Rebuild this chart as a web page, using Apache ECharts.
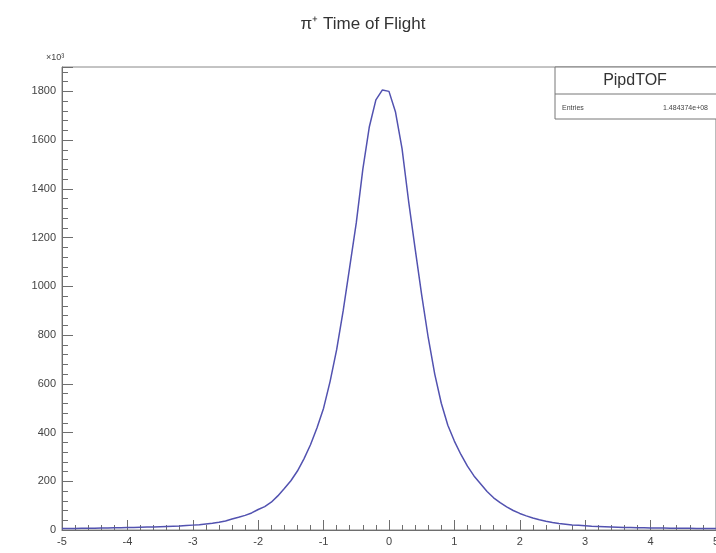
<!DOCTYPE html>
<html lang="en">
<head>
 <meta charset="UTF-8">
 <title>pi+ time of flight</title>
 <style>
  html, body { margin: 0; padding: 0; background: #fff; overflow: hidden; }
 </style>
</head>
<body>
 <div id="main" style="width: 722px;height:553px;"></div>
 <script src="https://cdn.jsdelivr.net/npm/echarts@6/dist/echarts.min.js"></script>
 <script type="text/javascript">

// time of flight (ns), sampled every 0.1
var tof = [-5.0,-4.9,-4.8,-4.7,-4.6,-4.5,-4.4,-4.3,-4.2,-4.1,
           -4.0,-3.9,-3.8,-3.7,-3.6,-3.5,-3.4,-3.3,-3.2,-3.1,
           -3.0,-2.9,-2.8,-2.7,-2.6,-2.5,-2.4,-2.3,-2.2,-2.1,
           -2.0,-1.9,-1.8,-1.7,-1.6,-1.5,-1.4,-1.3,-1.2,-1.1,
           -1.0,-0.9,-0.8,-0.7,-0.6,-0.5,-0.4,-0.3,-0.2,-0.1,
            0.0, 0.1, 0.2, 0.3, 0.4, 0.5, 0.6, 0.7, 0.8, 0.9,
            1.0, 1.1, 1.2, 1.3, 1.4, 1.5, 1.6, 1.7, 1.8, 1.9,
            2.0, 2.1, 2.2, 2.3, 2.4, 2.5, 2.6, 2.7, 2.8, 2.9,
            3.0, 3.1, 3.2, 3.3, 3.4, 3.5, 3.6, 3.7, 3.8, 3.9,
            4.0, 4.1, 4.2, 4.3, 4.4, 4.5, 4.6, 4.7, 4.8, 4.9, 5.0];

// entries per bin, x10^3
var counts = [6, 6, 6, 7, 7, 7, 8, 8, 9, 9,
              10, 10, 11, 12, 12, 13, 14, 15, 16, 18,
              20, 22, 25, 28, 32, 37, 45, 52, 60, 70,
              84, 96, 114, 140, 170, 202, 242, 292, 350, 420,
              500, 610, 740, 900, 1080, 1260, 1480, 1655, 1765, 1806,
              1800, 1715, 1565, 1350, 1155, 965, 790, 640, 520, 430,
              365, 310, 262, 222, 190, 158, 132, 112, 95, 80,
              68, 58, 49, 42, 36, 31, 27, 24, 21, 19,
              17, 15, 14, 13, 12, 11, 10, 10, 9, 9,
              8, 8, 8, 7, 7, 7, 7, 6, 6, 6, 6];

var yTicks = [0, 200, 400, 600, 800, 1000, 1200, 1400, 1600, 1800];

var histName = 'PipdTOF';
var entriesText = '1.484374e+08';

var points = tof.map(function (x, i) { return [x, counts[i]]; });

var myChart = echarts.init(document.getElementById('main'));

var axisGrey = '#6e6e6e';
var labelFont = { color: '#444', fontFamily: 'Liberation Sans, Arial, sans-serif', fontSize: 11 };

myChart.setOption({
    backgroundColor: '#fff',
    animation: false,
    title: {
        text: 'π⁺ Time of Flight',
        left: 358,
        textAlign: 'center',
        top: 11,
        textStyle: {
            color: '#333',
            fontFamily: 'Liberation Sans, Arial, sans-serif',
            fontSize: 17,
            fontWeight: 'normal'
        }
    },
    grid: {
        left: 62,
        right: 4,
        top: 67,
        bottom: 23,
        show: true,
        borderColor: '#888',
        borderWidth: 1
    },
    xAxis: {
        type: 'value',
        min: -5,
        max: 5,
        interval: 1,
        axisLine: { onZero: false, lineStyle: { color: axisGrey } },
        axisTick: { inside: true, length: 10, lineStyle: { color: axisGrey } },
        minorTick: { show: true, splitNumber: 5, length: 5, lineStyle: { color: axisGrey } },
        splitLine: { show: false },
        axisLabel: Object.assign({ margin: 6 }, labelFont)
    },
    yAxis: {
        type: 'value',
        min: 0,
        max: 1900,
        interval: 200,
        axisLine: { onZero: false, lineStyle: { color: axisGrey } },
        axisTick: { inside: true, length: 11, lineStyle: { color: axisGrey } },
        minorTick: { show: true, splitNumber: 5, length: 6, lineStyle: { color: axisGrey } },
        splitLine: { show: false },
        axisLabel: Object.assign({
            margin: 6,
            showMaxLabel: false,
            formatter: function (v) { return yTicks.indexOf(v) >= 0 ? String(v) : ''; }
        }, labelFont)
    },
    graphic: [
        {
            type: 'text',
            left: 46,
            top: 53,
            style: {
                text: '×10³',
                fill: '#444',
                font: '9px Liberation Sans, Arial, sans-serif'
            }
        },
        {
            type: 'rect',
            shape: { x: 555, y: 67, width: 170, height: 52 },
            style: { fill: '#fff', stroke: '#777', lineWidth: 1 },
            z: 10
        },
        {
            type: 'line',
            shape: { x1: 555, y1: 94, x2: 722, y2: 94 },
            style: { stroke: '#777', lineWidth: 1 },
            z: 11
        },
        {
            type: 'text',
            x: 635,
            y: 81,
            style: {
                text: histName,
                fill: '#333',
                font: '16px Liberation Sans, Arial, sans-serif',
                align: 'center',
                verticalAlign: 'middle'
            },
            z: 11
        },
        {
            type: 'text',
            x: 562,
            y: 108,
            style: {
                text: 'Entries',
                fill: '#444',
                font: '7px Liberation Sans, Arial, sans-serif',
                verticalAlign: 'middle'
            },
            z: 11
        },
        {
            type: 'text',
            x: 708,
            y: 108,
            style: {
                text: entriesText,
                fill: '#444',
                font: '7px Liberation Sans, Arial, sans-serif',
                align: 'right',
                verticalAlign: 'middle'
            },
            z: 11
        }
    ],
    series: [{
        type: 'line',
        data: points,
        showSymbol: false,
        smooth: false,
        lineStyle: { color: '#5252b0', width: 1.5 },
        z: 3
    }]
});
 </script>
</body>
</html>
